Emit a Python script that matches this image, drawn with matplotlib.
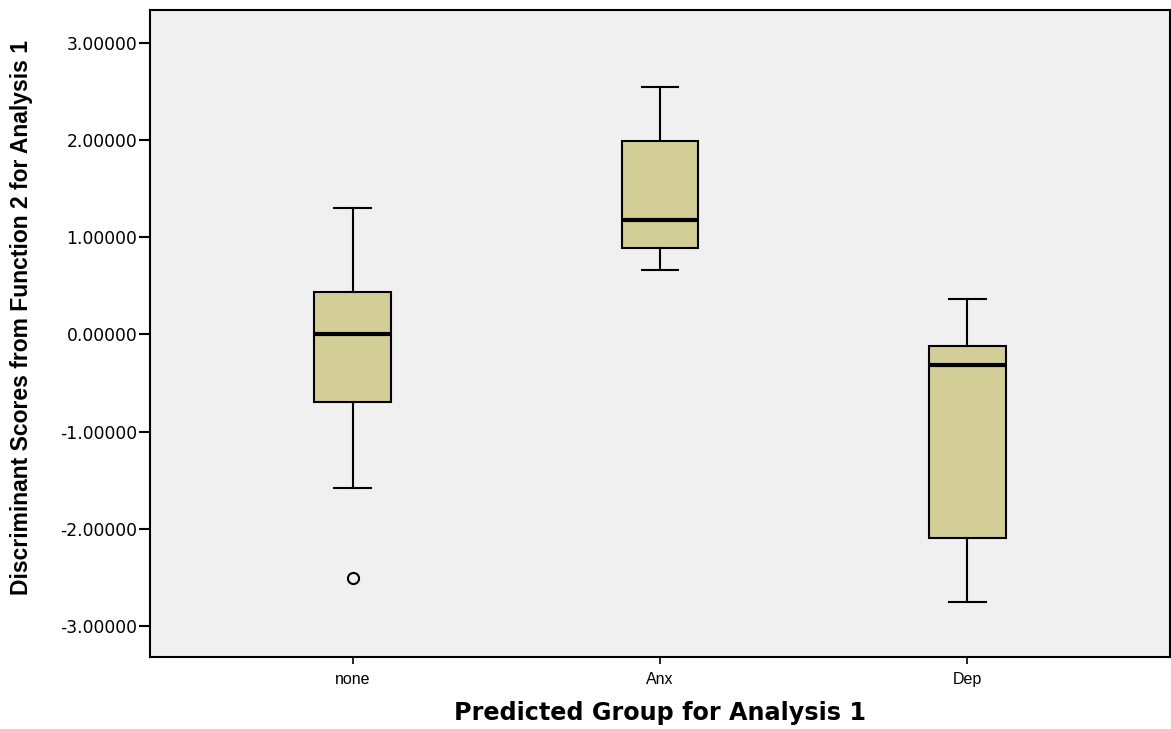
import matplotlib
matplotlib.use("Agg")
import matplotlib.pyplot as plt

categories = ["none", "Anx", "Dep"]
whisker_low = [-1.58, 0.66, -2.75]
q1 = [-0.70, 0.89, -2.09]
median = [0.00, 1.18, -0.31]
q3 = [0.44, 1.99, -0.12]
whisker_high = [1.30, 2.55, 0.37]
outliers = [[-2.51], [], []]
yticks = [-3.0, -2.0, -1.0, 0.0, 1.0, 2.0, 3.0]

fig = plt.figure(figsize=(11.71, 7.29), dpi=100)
fig.patch.set_facecolor("white")
ax = fig.add_axes([150/1171, 72/729, 1020/1171, 647/729])
ax.set_facecolor("#f0f0f0")

stats = []
for i, c in enumerate(categories):
    stats.append(dict(label=c, whislo=whisker_low[i], q1=q1[i], med=median[i],
                      q3=q3[i], whishi=whisker_high[i], fliers=outliers[i]))

ax.bxp(stats, positions=[1, 2, 3], widths=0.25, patch_artist=True,
       boxprops=dict(facecolor="#d3cd98", edgecolor="black", linewidth=1.5),
       medianprops=dict(color="black", linewidth=3),
       whiskerprops=dict(color="black", linewidth=1.5),
       capprops=dict(color="black", linewidth=1.5),
       capwidths=0.12,
       flierprops=dict(marker="o", markersize=8, markerfacecolor="none",
                       markeredgecolor="black", markeredgewidth=1.5))

ax.set_xlim(0.34, 3.66)
ax.set_ylim(-3.32, 3.34)
ax.set_yticks(yticks)
ax.set_yticklabels([f"{v:.5f}" for v in yticks], fontsize=12.3, family="DejaVu Sans")
ax.set_xticks([1, 2, 3])
ax.set_xticklabels(categories, fontsize=11.5, family="Liberation Sans")
ax.tick_params(axis="y", length=8, width=1.5, pad=1)
ax.tick_params(axis="x", length=5, width=1.2, pad=6)
for s in ax.spines.values():
    s.set_linewidth(1.5)

ax.set_xlabel("Predicted Group for Analysis 1", fontsize=17.2, fontweight="bold",
              family="DejaVu Sans", labelpad=10)
ax.set_ylabel("Discriminant Scores from Function 2 for Analysis 1", fontsize=16.5,
              fontweight="bold", family="Liberation Sans")
ax.yaxis.set_label_coords(-0.1147, 0.525)

fig.savefig("out.png", dpi=100)
